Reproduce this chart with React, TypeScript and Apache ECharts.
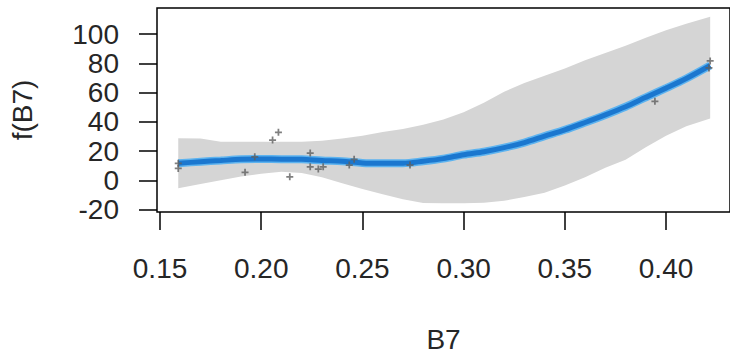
import React, { useEffect, useRef } from "react";
import * as echarts from "echarts";

// Smooth term f(B7) with its confidence band and partial residuals
const gridX = [0.159, 0.17, 0.18, 0.19, 0.2, 0.21, 0.22, 0.23, 0.24, 0.25, 0.26, 0.27, 0.28, 0.29, 0.3, 0.31, 0.32, 0.33, 0.34, 0.35, 0.36, 0.37, 0.38, 0.39, 0.4, 0.41, 0.4218];
const fitValues = [11.6, 12.7, 13.5, 14.3, 14.5, 14.4, 14.3, 13.5, 13.0, 11.8, 11.6, 11.6, 13.0, 14.8, 17.5, 19.5, 22.3, 25.8, 30.2, 34.5, 39.5, 44.7, 50.3, 56.7, 63.0, 69.6, 78.5];
const upperValues = [28.8, 28.6, 26.3, 26.3, 26.3, 26.3, 26.3, 27.0, 28.6, 30.5, 33.0, 35.0, 38.0, 41.5, 46.5, 53.0, 60.5, 66.5, 71.5, 76.5, 82.0, 87.0, 92.0, 97.5, 102.5, 107.0, 111.8];
const lowerValues = [-5.5, -2.5, 0.0, 2.5, 4.5, 5.8, 5.0, 2.0, -2.0, -6.0, -9.5, -13.0, -15.5, -15.8, -15.8, -15.3, -14.0, -11.5, -8.5, -3.5, 2.0, 8.5, 14.1, 22.6, 30.5, 37.0, 42.3];

const pointX = [0.159, 0.159, 0.192, 0.1968, 0.2056, 0.2085, 0.2141, 0.2242, 0.2242, 0.2282, 0.2306, 0.2435, 0.2459, 0.2735, 0.3945, 0.4218, 0.4212];
const pointY = [11.6, 8.1, 5.4, 16.0, 27.5, 32.8, 2.4, 18.6, 9.2, 7.7, 9.2, 10.4, 14.3, 10.4, 54.0, 81.6, 76.8];

const xTicks = [0.15, 0.2, 0.25, 0.3, 0.35, 0.4];
const xTickLabels = ["0.15", "0.20", "0.25", "0.30", "0.35", "0.40"];
const yTicks = [-20, 0, 20, 40, 60, 80, 100];
const yTickLabels = ["-20", "0", "20", "40", "60", "80", "100"];

const plusSymbol = "path://M3,0h2v3h3v2h-3v3h-2v-3h-3v-2h3z";

export default function App() {
  const ref = useRef<HTMLDivElement>(null);

  useEffect(() => {
    if (!ref.current) return;
    const chart = echarts.init(ref.current, undefined, { renderer: "svg" });
    const font = "'Liberation Sans', Arial, sans-serif";
    const textColor = "#262626";

    const pairs = (xs: number[], ys: number[]) => xs.map((x, i) => [x, ys[i]]);

    chart.setOption({
      animation: false,
      backgroundColor: "#ffffff",
      grid: {
        left: 155,
        top: 8,
        width: 586,
        height: 204,
        show: true,
        borderColor: "#000000",
        borderWidth: 1.5,
        backgroundColor: "transparent",
      },
      xAxis: {
        type: "value",
        min: 0.1485,
        max: 0.4316,
        name: "B7",
        nameLocation: "middle",
        nameGap: 113,
        nameTextStyle: { fontFamily: font, fontSize: 28, color: textColor },
        axisLine: { show: false, onZero: false },
        splitLine: { show: false },
        axisTick: {
          show: true,
          length: 18,
          customValues: xTicks,
          lineStyle: { color: "#000000", width: 1.5 },
        },
        axisLabel: {
          customValues: xTicks,
          margin: 42,
          fontFamily: font,
          fontSize: 28,
          color: textColor,
          formatter: (v: number) => xTickLabels[xTicks.findIndex((t) => Math.abs(t - v) < 1e-9)] ?? "",
        },
      },
      yAxis: {
        type: "value",
        min: -21.7,
        max: 117.8,
        name: "f(B7)",
        nameLocation: "middle",
        nameGap: 121,
        nameRotate: 90,
        nameTextStyle: { fontFamily: font, fontSize: 28, color: textColor },
        axisLine: { show: false, onZero: false },
        splitLine: { show: false },
        axisTick: {
          show: true,
          length: 18,
          customValues: yTicks,
          lineStyle: { color: "#000000", width: 1.5 },
        },
        axisLabel: {
          customValues: yTicks,
          margin: 38,
          fontFamily: font,
          fontSize: 28,
          color: textColor,
          formatter: (v: number) => yTickLabels[yTicks.findIndex((t) => Math.abs(t - v) < 1e-9)] ?? "",
        },
      },
      series: [
        {
          name: "band",
          type: "custom",
          data: [[gridX[0], lowerValues[0]]],
          silent: true,
          z: 1,
          renderItem: (_params: any, api: any) => {
            const top = gridX.map((x, i) => api.coord([x, upperValues[i]]));
            const bottom = gridX.map((x, i) => api.coord([x, lowerValues[i]])).reverse();
            return {
              type: "polygon",
              shape: { points: top.concat(bottom) },
              style: { fill: "#d5d5d5", stroke: "none" },
            };
          },
        },
        {
          name: "fit-halo",
          type: "line",
          data: pairs(gridX, fitValues),
          symbol: "none",
          smooth: 0.3,
          lineStyle: { color: "#5db3ef", width: 8 },
          z: 2,
        },
        {
          name: "fit",
          type: "line",
          data: pairs(gridX, fitValues),
          symbol: "none",
          smooth: 0.3,
          lineStyle: { color: "#1b77cf", width: 5 },
          z: 3,
        },
        {
          name: "residuals",
          type: "scatter",
          data: pairs(pointX, pointY),
          symbol: plusSymbol,
          symbolSize: 7,
          itemStyle: { color: "#5f5f5f" },
          z: 4,
        },
      ],
    });

    return () => chart.dispose();
  }, []);

  return (
    <div
      ref={ref}
      style={{ position: "fixed", left: 0, top: 0, width: 730, height: 358, background: "#fff" }}
    />
  );
}
